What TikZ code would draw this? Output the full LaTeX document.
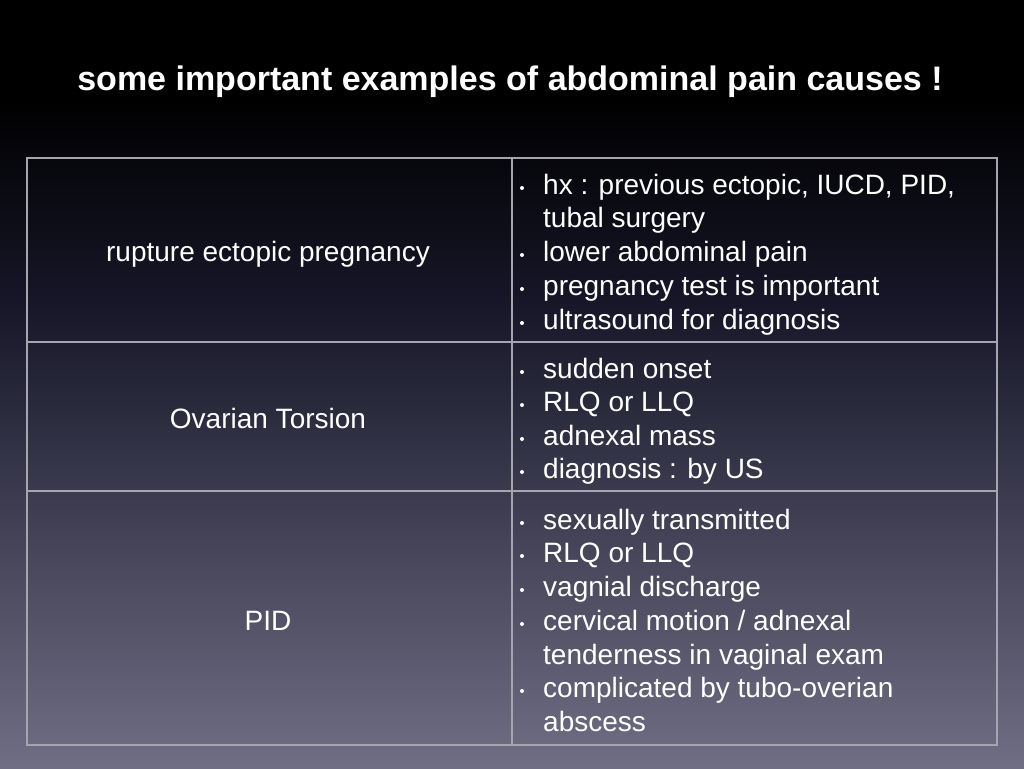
\documentclass[tikz,border=0pt]{standalone}
\usepackage{fontspec}
\setmainfont{Liberation Sans}
\definecolor{bgbot}{RGB}{112,110,132}
\definecolor{bgmid}{RGB}{22,22,40}
\definecolor{grid}{RGB}{165,165,175}
\begin{document}
\begin{tikzpicture}[x=1pt,y=-1pt,
  txt/.style={text=white,font=\fontsize{28}{28}\selectfont,inner sep=0pt,text height=20pt,text depth=6pt},
  cell/.style={draw=grid,line width=1.5pt}]
\useasboundingbox (0,0) rectangle (1024,768);
\fill[black] (0,0) rectangle (1024,100);
\shade[top color=black,bottom color=bgmid] (0,100) rectangle (1024,300);
\shade[top color=bgmid,bottom color=bgbot] (0,300) rectangle (1024,768);
\node[text=white,font=\bfseries\fontsize{34}{34}\selectfont,inner sep=0pt,text height=24pt,text depth=7pt] (title) at (510,82) {some important examples of abdominal pain causes !};
\draw[cell] (27,158) rectangle (997,745);
\draw[cell] (512,158) -- (512,745);
\draw[cell] (27,342) -- (997,342);
\draw[cell] (27,491) -- (997,491);
\node[txt] (a) at (268,254) {rupture ectopic pregnancy};
\node[txt] (b) at (268,421) {Ovarian Torsion};
\node[txt] (c) at (268,623) {PID};
\foreach \y/\t/\b in {184/{hx : previous ectopic, IUCD, PID,}/1, 217/{tubal surgery}/0, 251/{lower abdominal pain}/1, 285/{pregnancy test is important}/1, 319/{ultrasound for diagnosis}/1,
 368/{sudden onset}/1, 401/{RLQ or LLQ}/1, 435/{adnexal mass}/1, 468/{diagnosis : by US}/1,
 519/{sexually transmitted}/1, 552/{RLQ or LLQ}/1, 586/{vagnial discharge}/1, 620/{cervical motion / adnexal}/1, 654/{tenderness in vaginal exam}/0, 687/{complicated by tubo-overian}/1, 721/{abscess}/0}{
  \node[txt,anchor=west] at (543,\y+3) {\t};
  \ifnum\b=1 \fill[white] (522,\y+4) circle (2);\fi
}
\end{tikzpicture}
\end{document}
